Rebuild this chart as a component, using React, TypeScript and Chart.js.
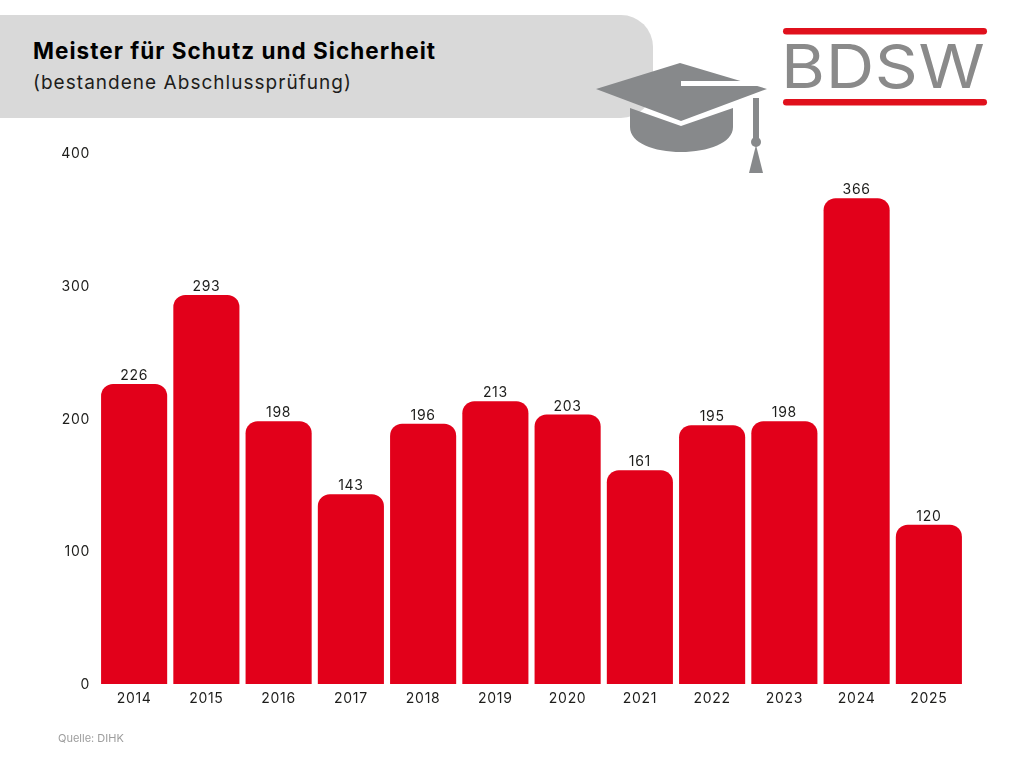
import React, { useEffect, useRef } from "react";
import { Chart, registerables } from "chart.js";

Chart.register(...registerables);

const years = ["2014", "2015", "2016", "2017", "2018", "2019", "2020", "2021", "2022", "2023", "2024", "2025"];
const graduates = [226, 293, 198, 143, 196, 213, 203, 161, 195, 198, 366, 120];
const yTicks = [0, 100, 200, 300, 400];
const titleText = "Meister für Schutz und Sicherheit";
const subtitleText = "(bestandene Abschlussprüfung)";
const sourceText = "Quelle: DIHK";
const logoText = "BDSW";

const FONT = "Inter, 'Noto Sans', sans-serif";
const RED = "#e2001a";
const INK = "#1d1d1b";
const NUM_SPACING = "0.7px";

const valueLabels = {
  id: "valueLabels",
  beforeDraw(chart: any) {
    chart.ctx.letterSpacing = NUM_SPACING;
  },
  afterDatasetsDraw(chart: any) {
    const { ctx } = chart;
    const meta = chart.getDatasetMeta(0);
    ctx.save();
    ctx.font = `400 14px ${FONT}`;
    ctx.fillStyle = INK;
    ctx.textAlign = "center";
    ctx.textBaseline = "alphabetic";
    meta.data.forEach((bar: any, i: number) => {
      ctx.fillText(String(graduates[i]), bar.x, bar.y - 4);
    });
    ctx.restore();
  },
};

export default function App() {
  const ref = useRef<HTMLCanvasElement>(null);
  useEffect(() => {
    if (!ref.current) return;
    const chart = new Chart(ref.current, {
      type: "bar",
      data: {
        labels: years,
        datasets: [
          {
            data: graduates,
            backgroundColor: RED,
            borderRadius: { topLeft: 12, topRight: 12, bottomLeft: 0, bottomRight: 0 },
            borderSkipped: false,
            categoryPercentage: 0.915,
            barPercentage: 1,
          },
        ],
      },
      options: {
        animation: false,
        responsive: false,
        devicePixelRatio: 1,
        layout: { padding: { left: 0, right: 59, top: 153, bottom: 0 } },
        plugins: { legend: { display: false }, title: { display: false }, tooltip: { enabled: false } },
        scales: {
          x: {
            grid: { display: false, drawTicks: false },
            border: { display: false },
            ticks: { color: INK, font: { family: FONT, size: 14 }, padding: 6, maxRotation: 0, autoSkip: false },
            afterFit: (s: any) => { s.height = 84; },
          },
          y: {
            min: 0,
            max: 400,
            afterBuildTicks: (s: any) => { s.ticks = yTicks.map((value) => ({ value })); },
            grid: { display: false, drawTicks: false },
            border: { display: false },
            ticks: { color: INK, font: { family: FONT, size: 14 }, padding: 8, labelOffset: 1 },
            afterFit: (s: any) => { s.width = 98; },
          },
        },
      },
      plugins: [valueLabels],
    } as any);
    return () => chart.destroy();
  }, []);

  const abs: React.CSSProperties = { position: "absolute", whiteSpace: "nowrap" };
  return (
    <div style={{ position: "absolute", left: 0, top: 0, width: 1024, height: 768, background: "#fff", overflow: "hidden" }}>
      <div style={{ ...abs, left: 0, top: 15, width: 653, height: 103, background: "#d9d9d9", borderRadius: "0 32px 32px 0" }} />
      <div style={{ ...abs, left: 33, top: 37, font: `700 22.5px ${FONT}`, color: "#000", letterSpacing: 1.03 }}>{titleText}</div>
      <div style={{ ...abs, left: 33, top: 70.5, font: `400 19px ${FONT}`, color: "#1d1d1b", letterSpacing: 1.03 }}>{subtitleText}</div>
      <svg width={1024} height={200} style={{ position: "absolute", left: 0, top: 0 }}>
        <path d="M596 89 L680 63 L767 89 L681 121 Z" fill="#87898b" />
        <path d="M681 81 L743 81 L760 86 L681 86 Z" fill="#fff" />
        <path d="M630 108 L681 126 L733 108 L733 127 C733 143 708 152 681 152 C654 152 630 143 630 127 Z" fill="#87898b" />
        <rect x={753} y={98} width={6} height={42} fill="#87898b" />
        <circle cx={756} cy={142} r={5} fill="#87898b" />
        <path d="M756 145 L763 173 L749 173 Z" fill="#87898b" />
        <rect x={783} y={28} width={204} height={6.5} rx={3.25} fill="#e0101c" />
        <rect x={783} y={99} width={204} height={6.5} rx={3.25} fill="#e0101c" />
      </svg>
      <div style={{ ...abs, left: 781, top: 30, font: `400 60px ${FONT}`, color: "#8a8a8a", letterSpacing: 0.6, transform: "scaleX(1.12)", transformOrigin: "left center" }}>{logoText}</div>
      <canvas ref={ref} width={1024} height={768} style={{ position: "absolute", left: 0, top: 0 }} />
      <div style={{ ...abs, left: 58, top: 731, font: `400 11px ${FONT}`, color: "#9d9d9d" }}>{sourceText}</div>
    </div>
  );
}
